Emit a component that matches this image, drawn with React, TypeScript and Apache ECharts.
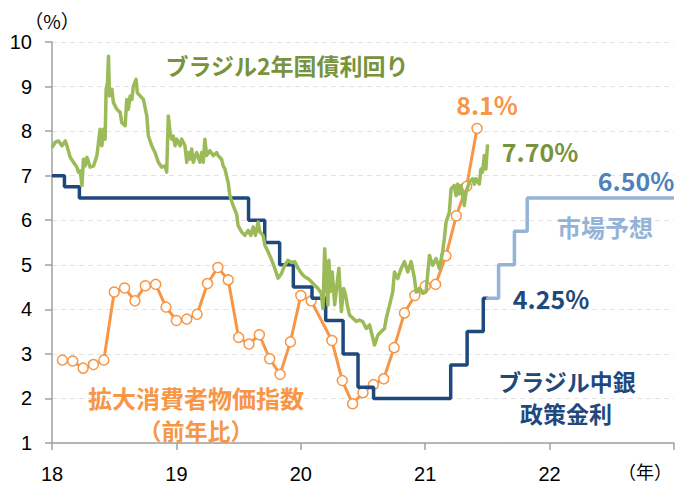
import React, { useEffect, useRef } from "react";
import * as echarts from "echarts";

// IPCA (前年比, %), monthly from Jan 2018 to May 2021 (Feb 2020 not plotted in the source chart)
const ipcaStartYear = 18;
const ipcaValues: (number | null)[] = [
  2.86, 2.84, 2.68, 2.76, 2.86, 4.39, 4.48, 4.19, 4.53, 4.56, 4.05, 3.75,
  3.78, 3.89, 4.58, 4.94, 4.66, 3.37, 3.22, 3.43, 2.89, 2.54, 3.27, 4.31,
  4.19, null, 3.30, 2.40, 1.88, 2.13, 2.31, 2.44, 3.14, 3.92, 4.31, 4.52,
  4.56, 5.20, 6.10, 6.76, 8.06,
];

// Brazil 2-year government bond yield [year, %]
const bondYield: [number, number][] = [
  [18.000, 7.63], [18.026, 7.75], [18.053, 7.78], [18.080, 7.67], [18.107, 7.78], [18.120, 7.67],
  [18.147, 7.41], [18.173, 7.30], [18.200, 7.19], [18.213, 7.08], [18.227, 7.11], [18.241, 6.78],
  [18.253, 7.37], [18.267, 7.22], [18.281, 7.41], [18.307, 7.19], [18.334, 7.22], [18.361, 7.45],
  [18.374, 7.75], [18.387, 8.04], [18.401, 7.67], [18.414, 8.04], [18.427, 7.82], [18.435, 8.94],
  [18.446, 9.08], [18.454, 9.68], [18.462, 8.79], [18.481, 8.94], [18.494, 8.64], [18.521, 8.49],
  [18.548, 8.42], [18.561, 8.19], [18.588, 8.12], [18.601, 8.71], [18.614, 8.49], [18.628, 8.79],
  [18.642, 8.71], [18.654, 9.01], [18.676, 9.16], [18.686, 8.86], [18.708, 8.79], [18.735, 8.71],
  [18.762, 8.34], [18.775, 7.89], [18.802, 7.67], [18.828, 7.52], [18.855, 7.30], [18.882, 7.19],
  [18.909, 7.22], [18.922, 7.08], [18.935, 8.34], [18.949, 7.97], [18.962, 7.82], [18.975, 7.89],
  [18.989, 7.67], [19.002, 7.82], [19.029, 7.67], [19.042, 7.82], [19.069, 7.67], [19.083, 7.30],
  [19.095, 7.52], [19.109, 7.37], [19.123, 7.60], [19.136, 7.30], [19.163, 7.52], [19.189, 7.30],
  [19.203, 7.52], [19.216, 7.30], [19.229, 7.82], [19.243, 7.45], [19.269, 7.56], [19.296, 7.45],
  [19.323, 7.52], [19.336, 7.45], [19.363, 7.37], [19.376, 7.22], [19.390, 7.15], [19.416, 6.85],
  [19.430, 6.55], [19.456, 6.33], [19.484, 6.14], [19.496, 5.88], [19.524, 5.74], [19.550, 5.66],
  [19.577, 5.77], [19.598, 5.66], [19.617, 5.85], [19.636, 5.66], [19.657, 5.96], [19.670, 5.74],
  [19.697, 5.66], [19.711, 5.44], [19.737, 5.29], [19.764, 5.12], [19.791, 4.92], [19.817, 4.70],
  [19.844, 4.80], [19.871, 4.99], [19.897, 5.10], [19.925, 5.05], [19.951, 5.07], [19.978, 4.92],
  [20.005, 4.81], [20.031, 4.73], [20.058, 4.69], [20.085, 4.62], [20.111, 4.54], [20.138, 4.47],
  [20.165, 4.36], [20.178, 4.02], [20.192, 5.36], [20.205, 4.62], [20.218, 4.10], [20.226, 5.10],
  [20.237, 4.40], [20.253, 4.84], [20.272, 4.10], [20.290, 4.54], [20.306, 4.92], [20.326, 3.95],
  [20.344, 4.47], [20.360, 4.32], [20.379, 4.02], [20.392, 3.87], [20.419, 3.80], [20.446, 3.73],
  [20.472, 3.76], [20.499, 3.72], [20.526, 3.57], [20.553, 3.65], [20.579, 3.35], [20.593, 3.20],
  [20.619, 3.42], [20.646, 3.50], [20.673, 3.57], [20.686, 3.79], [20.713, 4.09], [20.739, 4.39],
  [20.753, 4.84], [20.779, 4.69], [20.807, 4.92], [20.833, 5.07], [20.860, 4.84], [20.887, 5.07],
  [20.914, 4.69], [20.927, 4.39], [20.953, 4.47], [20.980, 4.36], [21.007, 4.39], [21.034, 5.21],
  [21.060, 4.99], [21.087, 5.14], [21.114, 4.92], [21.140, 5.29], [21.154, 5.59], [21.168, 5.96],
  [21.194, 6.18], [21.208, 6.70], [21.234, 6.78], [21.248, 6.55], [21.261, 6.81], [21.274, 6.59],
  [21.288, 6.78], [21.301, 6.55], [21.314, 6.33], [21.328, 6.63], [21.354, 6.85], [21.381, 6.93],
  [21.395, 6.81], [21.408, 6.93], [21.435, 6.81], [21.448, 7.15], [21.461, 7.08], [21.475, 7.45],
  [21.488, 7.15], [21.501, 7.70],
];

// Selic policy rate: [date of change (year), new rate %]
const selicRate: [number, number][] = [
  [18.0, 7.0], [18.1, 6.75], [18.22, 6.5], [19.58, 6.0], [19.71, 5.5], [19.83, 5.0],
  [19.94, 4.5], [20.09, 4.25], [20.2, 3.75], [20.34, 3.0], [20.46, 2.25], [20.585, 2.0],
  [21.205, 2.75], [21.337, 3.5], [21.467, 4.25], [21.505, 4.25],
];

// Market expectation for Selic
const selicForecast: [number, number][] = [
  [21.49, 4.25], [21.59, 5.0], [21.717, 5.75], [21.82, 6.5], [23.0, 6.5],
];

const ipcaData: [number, number | null][] = ipcaValues.map((v, i) => [ipcaStartYear + (i + 1) / 12, v]);

const ORANGE = "#f79646";
const GREEN = "#9bbb59";
const GREEN_TEXT = "#77933c";
const NAVY = "#1f497d";
const LIGHTBLUE = "#95b3d7";
const MIDBLUE = "#4f81bd";
const CJK = '"Noto Sans CJK JP", "Noto Sans", sans-serif';

function label(text: string, x: number, y: number, fill: string, size: number, weight = "bold") {
  return {
    type: "text",
    x,
    y,
    z: 100,
    style: {
      text,
      fill,
      fontSize: size,
      fontWeight: weight,
      fontFamily: CJK,
      align: "center",
      verticalAlign: "middle",
    },
  };
}

export default function App() {
  const ref = useRef<HTMLDivElement>(null);
  useEffect(() => {
    if (!ref.current) return;
    const chart = echarts.init(ref.current, undefined, { renderer: "svg" });
    chart.setOption({
      animation: false,
      backgroundColor: "#ffffff",
      grid: { left: 52, right: 2, top: 42, bottom: 39, containLabel: false },
      xAxis: {
        type: "value",
        min: 18,
        max: 23,
        interval: 1,
        axisLine: { show: true, lineStyle: { color: "#a0a0a0", width: 1.5 } },
        axisTick: { show: true, length: 7, lineStyle: { color: "#a0a0a0", width: 1.5 } },
        axisLabel: {
          margin: 21,
          color: "#000",
          fontSize: 20,
          fontFamily: '"Liberation Sans", Arial, sans-serif',
          formatter: (v: number) => (v >= 23 ? "" : String(v)),
        },
        splitLine: { show: false },
      },
      yAxis: {
        type: "value",
        min: 1,
        max: 10,
        interval: 1,
        axisLine: { show: true, lineStyle: { color: "#a0a0a0", width: 1.5 } },
        axisTick: { show: true, length: 7, lineStyle: { color: "#a0a0a0", width: 1.5 } },
        axisLabel: {
          margin: 20,
          color: "#000",
          fontSize: 20,
          fontFamily: '"Liberation Sans", Arial, sans-serif',
        },
        splitLine: { show: true, lineStyle: { color: "#e3e3e3", type: [5, 4], width: 1 } },
      },
      series: [
        {
          name: "拡大消費者物価指数",
          type: "line",
          data: ipcaData,
          connectNulls: true,
          z: 2,
          symbol: "circle",
          symbolSize: 10,
          showSymbol: true,
          lineStyle: { color: ORANGE, width: 3 },
          itemStyle: { color: "#ffffff", borderColor: ORANGE, borderWidth: 1.5 },
        },
        {
          name: "ブラジル中銀政策金利",
          type: "line",
          data: selicRate,
          step: "end",
          z: 3,
          showSymbol: false,
          symbol: "none",
          lineStyle: { color: NAVY, width: 3.5 },
        },
        {
          name: "市場予想",
          type: "line",
          data: selicForecast,
          step: "end",
          z: 3,
          showSymbol: false,
          symbol: "none",
          lineStyle: { color: LIGHTBLUE, width: 3.5 },
        },
        {
          name: "ブラジル2年国債利回り",
          type: "line",
          data: bondYield,
          z: 4,
          showSymbol: false,
          symbol: "none",
          lineStyle: { color: GREEN, width: 3.5, join: "round" },
        },
      ],
      graphic: [
        label("（%）", 52, 20, "#000", 19, "normal"),
        label("（年）", 645, 471, "#000", 18, "normal"),
        label("ブラジル2年国債利回り", 287, 65, GREEN_TEXT, 23),
        label("8.1%", 487, 104, ORANGE, 25),
        label("7.70%", 540, 151, GREEN_TEXT, 25),
        label("6.50%", 636, 180, MIDBLUE, 25),
        label("市場予想", 605, 226, LIGHTBLUE, 24),
        label("4.25%", 551, 298, NAVY, 25),
        label("ブラジル中銀", 567, 381, NAVY, 23),
        label("政策金利", 566, 413, NAVY, 23),
        label("拡大消費者物価指数", 196, 397, ORANGE, 24),
        label("（前年比）", 196, 430, ORANGE, 23),
      ],
    });
    return () => chart.dispose();
  }, []);
  return (
    <div
      ref={ref}
      style={{ position: "fixed", left: 0, top: 0, width: 677, height: 484, background: "#fff" }}
    />
  );
}
